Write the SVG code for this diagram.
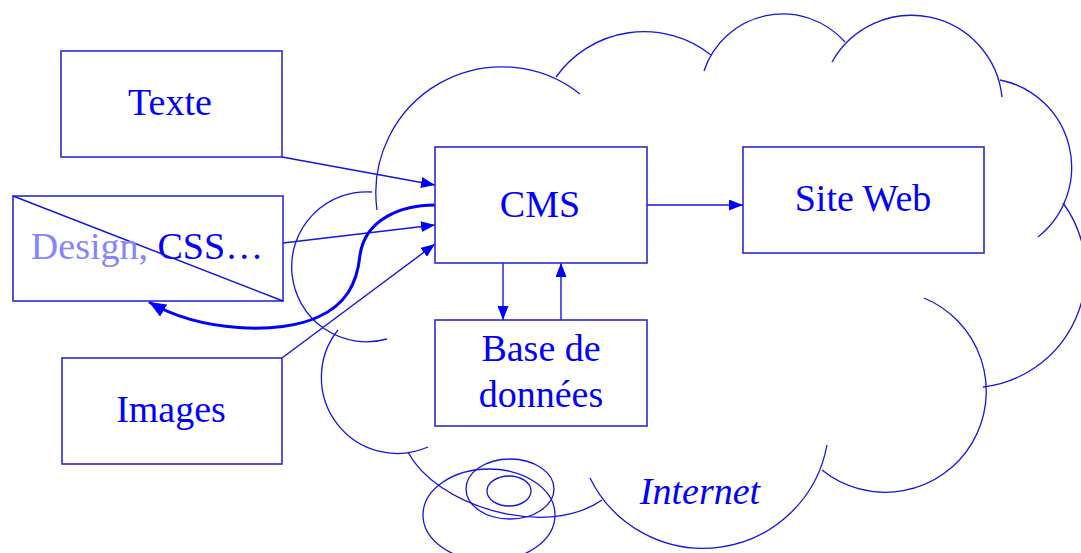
<svg xmlns="http://www.w3.org/2000/svg" width="1081" height="553" viewBox="0 0 1081 553">
<style>
.cloud{fill:none;stroke:#1515e0;stroke-width:1.3}
.box{fill:none;stroke:#2a2ad8;stroke-width:1.6}
.lbl{font-family:"Liberation Serif","Times New Roman",serif;font-size:38px;fill:#0000ff;text-anchor:middle}
.con{fill:none;stroke:#1515e0;stroke-width:1.4}
</style>
<defs>
<marker id="ah" viewBox="0 0 14 11" refX="14" refY="5.5" markerWidth="14" markerHeight="11" markerUnits="userSpaceOnUse" orient="auto">
<path d="M0,0 L14,5.5 L0,11 Z" fill="#0000ff"/>
</marker>
<marker id="ahb" viewBox="0 0 17 14" refX="17" refY="7" markerWidth="17" markerHeight="14" markerUnits="userSpaceOnUse" orient="auto">
<path d="M0,0 L17,7 L0,14 Z" fill="#0000ff"/>
</marker>
</defs>
<rect width="1081" height="553" fill="#ffffff"/>
<g id="cloud">
<path class="cloud" d="M377,210 A126,126 0 0 1 580,94"/>
<path class="cloud" d="M556,77 A108,108 0 0 1 711,55"/>
<path class="cloud" d="M704,71 A83,83 0 0 1 845,42"/>
<path class="cloud" d="M832,62 A91,91 0 0 1 1002,97"/>
<path class="cloud" d="M1000,80 A89,89 0 0 1 1038,237"/>
<path class="cloud" d="M1063,203 A116,116 0 0 1 983,387"/>
<path class="cloud" d="M924,298 A101,101 0 1 1 822,470"/>
<path class="cloud" d="M827,445 A126,126 0 0 1 590,478"/>
<path class="cloud" d="M408,452 C435,505 545,540 602,500"/>
<path class="cloud" d="M338,330 A76,76 0 0 0 428,447"/>
<path class="cloud" d="M372,192 A75,75 0 1 0 387,339"/>
<ellipse class="cloud" cx="509" cy="491" rx="22" ry="15" stroke-width="1.5"/>
<ellipse class="cloud" cx="510" cy="489" rx="44" ry="30" stroke-width="1.5"/>
<ellipse class="cloud" cx="489" cy="515" rx="66" ry="46" stroke-width="1.5"/>
<text class="lbl" x="700" y="504" font-style="italic">Internet</text>
</g>
<g id="connectors">
<line class="con" x1="282" y1="157" x2="435" y2="185" marker-end="url(#ah)"/>
<line class="con" x1="283" y1="243" x2="435" y2="225" marker-end="url(#ah)"/>
<line class="con" x1="282" y1="358" x2="435" y2="244" marker-end="url(#ah)"/>
<line class="con" x1="647" y1="205" x2="743" y2="205" marker-end="url(#ah)"/>
<line class="con" x1="503" y1="263" x2="503" y2="320" marker-end="url(#ah)"/>
<line class="con" x1="561" y1="320" x2="561" y2="263" marker-end="url(#ah)"/>
<path d="M435,205 C400,205 365,220 360,255 C357,285 345,305 318,317 C280,335 200,332 149,302" fill="none" stroke="#0000ff" stroke-width="3" marker-end="url(#ahb)"/>
</g>
<g id="texte">
<rect class="box" x="61" y="51" width="221" height="106"/>
<text class="lbl" x="170" y="115">Texte</text>
</g>
<g id="design">
<rect class="box" x="13" y="196" width="270" height="105"/>
<line x1="13" y1="196" x2="283" y2="301" stroke="#1515e0" stroke-width="1.5"/>
<text class="lbl" x="147" y="259"><tspan fill="#8585ff">Design,</tspan> CSS…</text>
</g>
<g id="images">
<rect class="box" x="62" y="358" width="220" height="106"/>
<text class="lbl" x="171" y="422">Images</text>
</g>
<g id="cms">
<rect class="box" x="435" y="147" width="212" height="116"/>
<text class="lbl" x="540" y="217">CMS</text>
</g>
<g id="siteweb">
<rect class="box" x="743" y="147" width="241" height="106"/>
<text class="lbl" x="863" y="211">Site Web</text>
</g>
<g id="bdd">
<rect class="box" x="435" y="320" width="212" height="106"/>
<text class="lbl" x="541" y="361">Base de</text>
<text class="lbl" x="541" y="407">données</text>
</g>
</svg>
